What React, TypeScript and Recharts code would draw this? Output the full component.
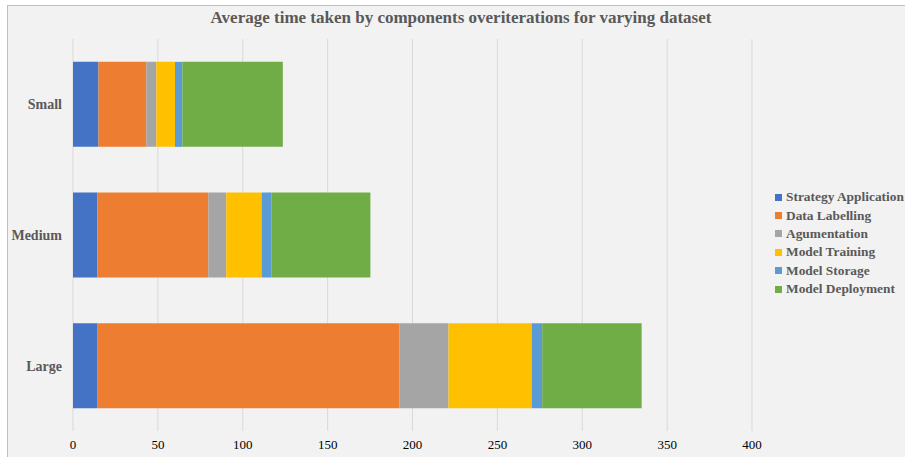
import { BarChart, Bar, XAxis, YAxis, CartesianGrid, Legend } from "recharts";

const categories = ["Small", "Medium", "Large"];
const strategyApplication = [15, 14.4, 14.2];
const dataLabelling = [28.2, 65.3, 178];
const augmentation = [5.9, 10.6, 29];
const modelTraining = [11, 20.8, 49];
const modelStorage = [4.3, 5.7, 6.2];
const modelDeployment = [59.2, 58.4, 58.6];
const xTicks = [0, 50, 100, 150, 200, 250, 300, 350, 400];

const series = [
    { key: "strategy", name: "Strategy Application", values: strategyApplication, color: "#4472c4" },
    { key: "labelling", name: "Data Labelling", values: dataLabelling, color: "#ed7d31" },
    { key: "augmentation", name: "Agumentation", values: augmentation, color: "#a5a5a5" },
    { key: "training", name: "Model Training", values: modelTraining, color: "#ffc000" },
    { key: "storage", name: "Model Storage", values: modelStorage, color: "#5b9bd5" },
    { key: "deployment", name: "Model Deployment", values: modelDeployment, color: "#70ad47" }
];

const data = categories.map((c, i) => {
    const row: Record<string, string | number> = { category: c };
    series.forEach((s) => {
        row[s.key] = s.values[i];
    });
    return row;
});

const font = "'Liberation Serif', 'Times New Roman', serif";

function LegendList() {
    return (
        <div style={{ fontFamily: font, fontWeight: "bold", fontSize: 13.4, color: "#595959" }}>
            {series.map((s) => (
                <div key={s.key} style={{ display: "flex", alignItems: "center", height: 18.4 }}>
                    <span style={{ width: 7, height: 7, background: s.color, marginRight: 4, display: "inline-block" }} />
                    <span style={{ whiteSpace: "nowrap" }}>{s.name}</span>
                </div>
            ))}
        </div>
    );
}

export default function App() {
    return (
        <div style={{ position: "absolute", left: 0, top: 0, width: 905, height: 457, background: "#fff" }}>
            <div
                style={{
                    position: "absolute",
                    left: 7,
                    top: 5,
                    width: 898,
                    height: 452,
                    background: "#f2f2f2",
                    borderLeft: "1px solid #bfbfbf",
                    borderTop: "1px solid #bfbfbf",
                    boxSizing: "border-box"
                }}
            />
            <div
                style={{
                    position: "absolute",
                    left: 0,
                    top: 8,
                    width: 922,
                    textAlign: "center",
                    fontFamily: font,
                    fontWeight: "bold",
                    fontSize: 17,
                    color: "#595959"
                }}
            >
                Average time taken by components overiterations for varying dataset
            </div>
            <div style={{ position: "absolute", left: 0, top: 0 }}>
                <BarChart
                    width={905}
                    height={457}
                    data={data}
                    layout="vertical"
                    barCategoryGap="17.5%"
                    margin={{ top: 39, right: 153, bottom: 6, left: 13 }}
                >
                    <CartesianGrid horizontal={false} stroke="#d9d9d9" />
                    <XAxis
                        type="number"
                        domain={[0, 400]}
                        ticks={xTicks}
                        axisLine={false}
                        tickLine={false}
                        tickMargin={3}
                        height={20}
                        tick={{ fontFamily: font, fontSize: 13, fill: "#000" }}
                    />
                    <YAxis
                        type="category"
                        dataKey="category"
                        width={60}
                        axisLine={false}
                        tickLine={false}
                        tickMargin={5}
                        tick={{ fontFamily: font, fontSize: 14, fontWeight: "bold", fill: "#595959" }}
                    />
                    <Legend
                        layout="vertical"
                        align="center"
                        verticalAlign="middle"
                        wrapperStyle={{ left: 775, top: 188, width: 130 }}
                        content={() => <LegendList />}
                    />
                    {series.map((s) => (
                        <Bar
                            key={s.key}
                            dataKey={s.key}
                            name={s.name}
                            stackId="a"
                            fill={s.color}
                            isAnimationActive={false}
                        />
                    ))}
                </BarChart>
            </div>
        </div>
    );
}
